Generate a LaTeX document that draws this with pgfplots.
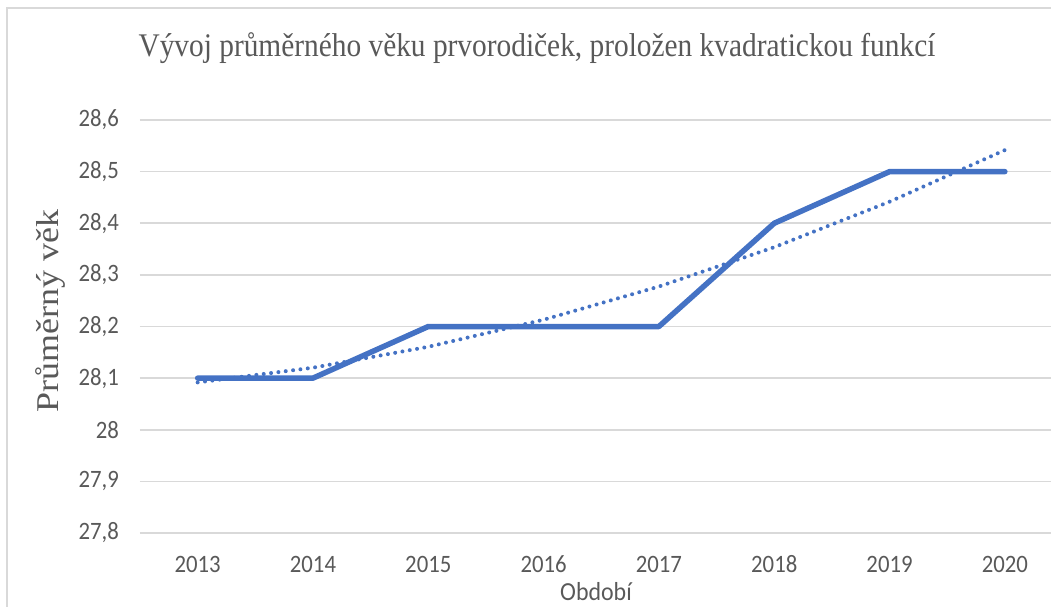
\documentclass[border=0pt]{standalone}
\usepackage{pgfplots}
\pgfplotsset{compat=1.18}
\usepackage{fontspec}
\setmainfont{Liberation Serif}
\newfontfamily\calibri{Carlito}
\definecolor{exblue}{HTML}{4472C4}
\definecolor{exgrid}{HTML}{D9D9D9}
\definecolor{extext}{HTML}{595959}
\begin{document}
\begin{tikzpicture}[x=1pt,y=1pt]
\begin{axis}[
  at={(0pt,0pt)}, anchor=south west,
  scale only axis, width=911pt, height=413pt,
  xmin=-0.5, xmax=7.4, ymin=27.8, ymax=28.6,
  xtick={0,1,2,3,4,5,6,7},
  xticklabels={2013,2014,2015,2016,2017,2018,2019,2020},
  ytick={27.8,27.9,28.0,28.1,28.2,28.3,28.4,28.5,28.6},
  ymajorgrids, major grid style={exgrid, line width=1.6pt},
  axis line style={draw=none}, tick style={draw=none},
  /pgf/number format/.cd, use comma, fixed, precision=1, assume math mode=true,
  /pgfplots/.cd,
  ticklabel style={font=\calibri\fontsize{25}{29}\selectfont, text=extext, xscale=0.91},
  yticklabel style={anchor=east, inner sep=0pt, xshift=-23pt},
  xticklabel style={anchor=base, inner sep=0pt, yshift=-39pt},
  clip=false,
]
\addplot[exblue, line width=5.5pt, line join=round, line cap=round] coordinates {
  (0,28.1) (1,28.1) (2,28.2) (3,28.2) (4,28.2) (5,28.4) (6,28.5) (7,28.5)
};
\addplot[exblue, line width=4pt, line cap=round, dash pattern=on 0pt off 7.4pt] coordinates {
  (0,28.0917) (1,28.1202) (2,28.1607) (3,28.2131) (4,28.2774) (5,28.3536) (6,28.4417) (7,28.5417)
};
\end{axis}
\node[anchor=base, inner sep=0pt, text=extext, font=\fontsize{33}{38}\selectfont] at (397,476) {\scalebox{0.89}[1]{Vývoj průměrného věku prvorodiček, proložen kvadratickou funkcí}};
\node[rotate=90, anchor=center, inner sep=0pt, text=extext, font=\fontsize{36}{40}\selectfont] at (-90,222) {\scalebox{1}[0.88]{Průměrný věk}};
\node[anchor=base, inner sep=0pt, text=extext, font=\calibri\fontsize{26}{30}\selectfont] at (456,-67) {\scalebox{0.92}[1]{Období}};
\draw[exgrid, line width=2pt] (-133,-80) -- (-133,525) -- (920,525);
\pgfresetboundingbox
\path[use as bounding box] (-140,-74) rectangle (911,533);
\end{tikzpicture}
\end{document}
